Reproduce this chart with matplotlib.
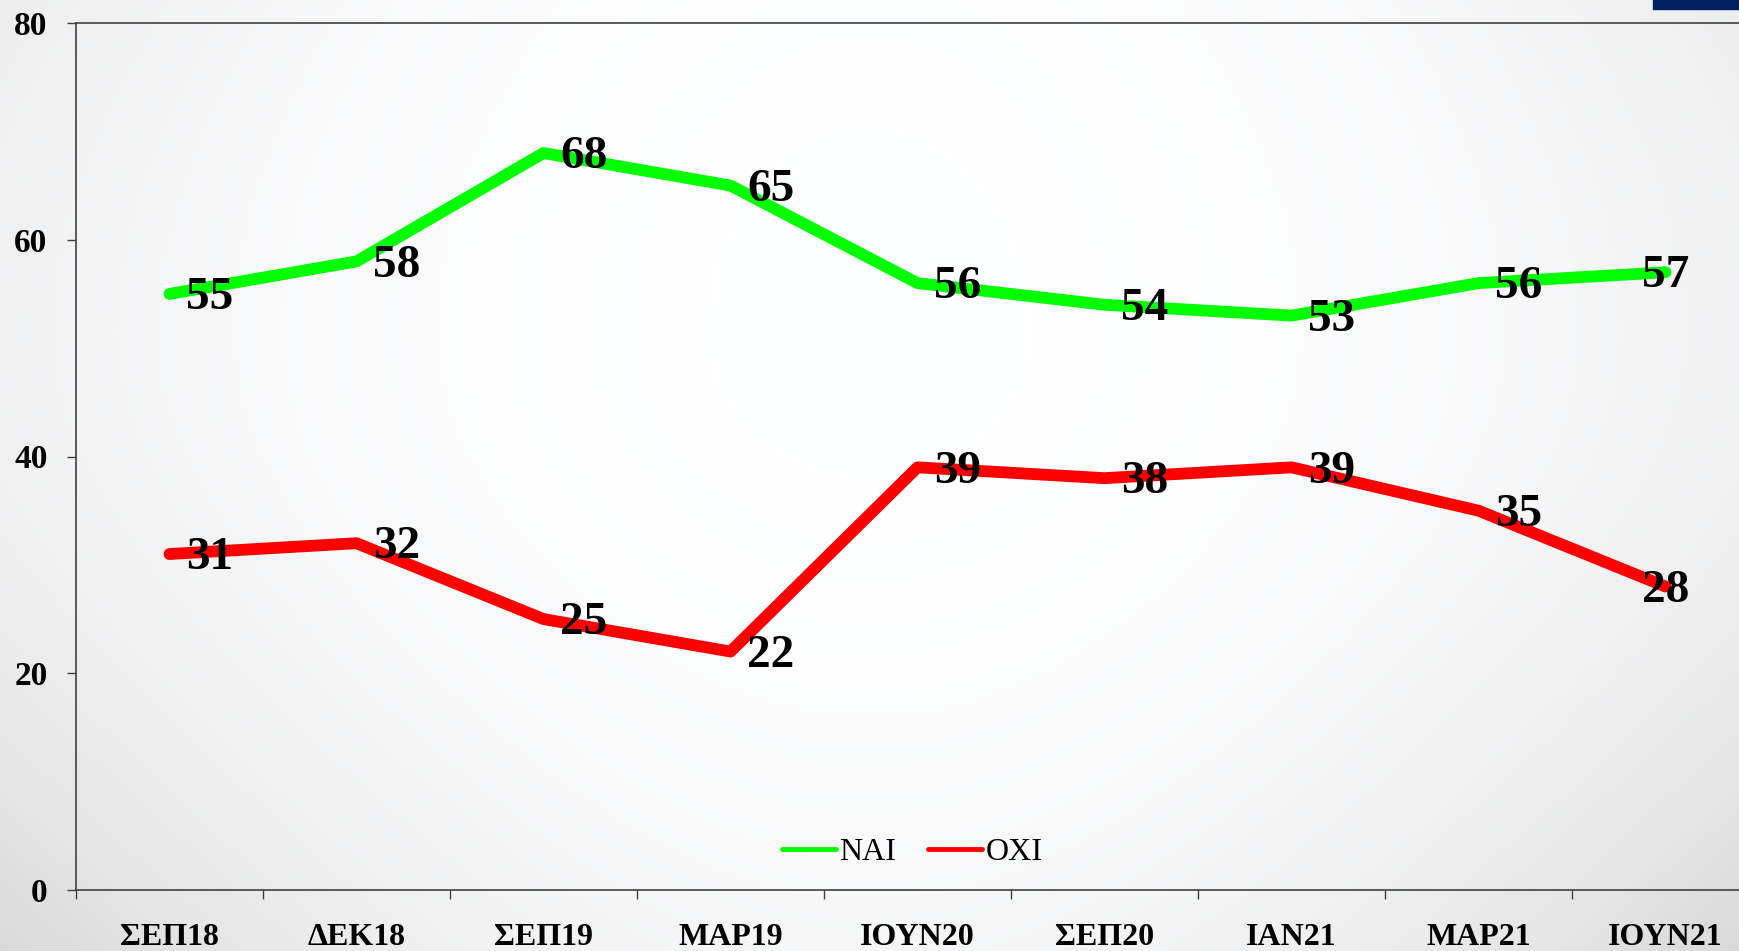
import numpy as np
import matplotlib
matplotlib.use("Agg")
import matplotlib.pyplot as plt
from matplotlib.patches import Rectangle

plt.rcParams["font.family"] = ["Liberation Serif", "DejaVu Serif"]

CATEGORIES = ["ΣΕΠ18", "ΔΕΚ18", "ΣΕΠ19", "ΜΑΡ19", "ΙΟΥΝ20", "ΣΕΠ20", "ΙΑΝ21", "ΜΑΡ21", "ΙΟΥΝ21"]
NAI = [55, 58, 68, 65, 56, 54, 53, 56, 57]
OXI = [31, 32, 25, 22, 39, 38, 39, 35, 28]
Y_TICKS = [0, 20, 40, 60, 80]

W, H = 1739, 951
fig = plt.figure(figsize=(W / 100, H / 100), dpi=100)

# soft background: white in the middle, grey towards the corners (darker at the bottom)
bg = fig.add_axes([0, 0, 1, 1], zorder=-10)
yy, xx = np.mgrid[0:1:240j, 0:1:400j]
dx2 = ((xx - 0.5) / 0.5) ** 2
cy = 0.35
below = yy > cy
dy2 = np.where(below, ((yy - cy) / (1 - cy)) ** 2, ((cy - yy) / cy) ** 2)
b = np.where(below, 0.035, 0.005)
c = np.where(below, 0.06, 0.012)
gray = np.clip(1.0 - 0.055 * dx2 - b * dy2 - c * dx2 * dy2, 0, 1)
bg.imshow(np.dstack([gray, gray * 1.002, gray * 1.005]).clip(0, 1), aspect="auto", extent=[0, 1, 1, 0])
bg.axis("off")

fig.patches.append(Rectangle((1653 / W, 1 - 9 / H), 1 - 1653 / W, 9 / H,
                             transform=fig.transFigure, color="#002060", zorder=5))

ax = fig.add_axes([76 / W, 1 - 890 / H, 1683 / W, 867 / H])
ax.set_facecolor("none")

x = np.arange(len(CATEGORIES))
ax.plot(x, NAI, color="#00ff00", lw=8.5, solid_capstyle="round", label="ΝΑΙ")
ax.plot(x, OXI, color="#ff0000", lw=8.5, solid_capstyle="round", label="ΟΧΙ")

last = len(CATEGORIES) - 1
for vals in (NAI, OXI):
    for xi, v in zip(x, vals):
        if xi == last:
            off, ha = (0, -3), "center"
        else:
            off, ha = (12, -3), "left"
        ax.annotate(str(v), (xi, v), xytext=off, textcoords="offset points",
                    ha=ha, va="center", fontsize=34, fontweight="bold", color="black")

ax.set_xlim(-0.5, len(CATEGORIES) - 0.5)
ax.set_ylim(0, 80)
ax.set_yticks(Y_TICKS)
ax.set_xticks(np.arange(len(CATEGORIES) + 1) - 0.5, minor=False)
ax.set_xticklabels([])
ax.set_xticks(x, minor=True)
ax.set_xticklabels(CATEGORIES, minor=True)
ax.tick_params(axis="x", which="major", direction="out", length=6.5, width=1, color="#404040")
ax.tick_params(axis="x", which="minor", length=0, pad=24, labelsize=23)
ax.tick_params(axis="y", direction="out", length=6.5, width=1, color="#404040", pad=14, labelsize=24)
for lab in ax.get_xticklabels(minor=True) + ax.get_yticklabels():
    lab.set_fontweight("bold")

for side in ("left", "bottom", "top"):
    ax.spines[side].set_color("#404040")
    ax.spines[side].set_linewidth(1.2)
ax.spines["right"].set_visible(False)

fig.legend(loc="center", bbox_to_anchor=(912 / W, 1 - 852 / H), ncol=2, frameon=False,
           fontsize=23, handlelength=1.7, handletextpad=0.1, columnspacing=1.0,
           handleheight=0.5)
for line in fig.legends[0].get_lines():
    line.set_linewidth(3.5)

fig.savefig("out.png", dpi=100)
